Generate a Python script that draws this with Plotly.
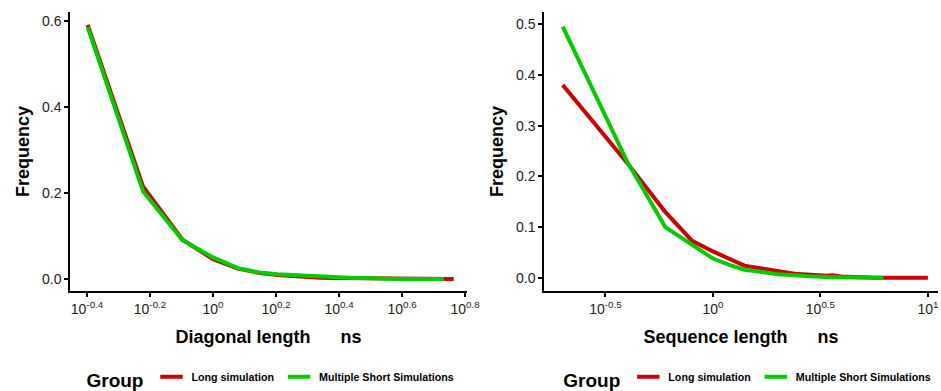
import plotly.graph_objects as go

# ---- Diagonal length distribution (ns) ----
diag_long_x = [0.4, 0.6, 0.8, 1.0, 1.2, 1.4, 1.6, 1.8, 2.0, 2.2, 2.4, 2.6, 2.8, 3.0,
               3.2, 3.4, 3.6, 3.8, 4.0, 4.2, 4.4, 4.6, 4.8, 5.0, 5.2, 5.4, 5.6, 5.8]
diag_long_y = [0.590, 0.214, 0.091, 0.046, 0.024, 0.014, 0.009, 0.006, 0.004, 0.003,
               0.002, 0.002, 0.001, 0.001, 0.001, 0.001, 0.0, 0.0, 0.0, 0.0,
               0.0, 0.0, 0.0, 0.0, 0.0, 0.0, 0.0, 0.0]
diag_short_x = [0.4, 0.6, 0.8, 1.0, 1.2, 1.4, 1.6, 1.8, 2.0, 2.2, 2.4, 2.6, 2.8, 3.0,
                3.2, 3.4, 3.6, 3.8, 4.0, 4.2, 4.4, 4.6, 4.8, 5.0, 5.2, 5.4]
diag_short_y = [0.585, 0.203, 0.090, 0.050, 0.025, 0.015, 0.011, 0.009, 0.006, 0.005,
                0.004, 0.003, 0.002, 0.002, 0.001, 0.001, 0.001, 0.0, 0.0, 0.0,
                0.0, 0.0, 0.0, 0.0, 0.0, 0.0]

# ---- Sequence length distribution (ns) ----
seq_long_x = [0.2, 0.4, 0.6, 0.8, 1.0, 1.2, 1.4, 1.6, 1.8, 2.0, 2.2, 2.4, 2.6, 2.8, 3.0,
              3.2, 3.4, 3.6, 3.8, 4.0, 4.2, 4.4, 4.6, 4.8, 5.0, 5.2, 5.4, 5.6, 5.8, 6.0,
              6.2, 6.4, 6.6, 6.8, 7.0, 7.2, 7.4, 7.6, 7.8, 8.0, 8.2, 8.4, 8.6, 8.8, 9.0,
              9.2, 9.4, 9.6, 9.8, 10.0]
seq_long_y = [0.380, 0.226, 0.130, 0.073, 0.052, 0.037, 0.024, 0.020, 0.016, 0.013,
              0.011, 0.008, 0.007, 0.006, 0.005, 0.004, 0.004, 0.005, 0.003, 0.002,
              0.002, 0.001, 0.001, 0.001, 0.001, 0.0, 0.0, 0.0, 0.0, 0.0,
              0.0, 0.0, 0.0, 0.0, 0.0, 0.0, 0.0, 0.0, 0.0, 0.0,
              0.0, 0.0, 0.0, 0.0, 0.0, 0.0, 0.0, 0.0, 0.0, 0.0]
seq_short_x = [0.2, 0.4, 0.6, 0.8, 1.0, 1.2, 1.4, 1.6, 1.8, 2.0, 2.2, 2.4, 2.6, 2.8, 3.0,
               3.2, 3.4, 3.6, 3.8, 4.0, 4.2, 4.4, 4.6, 4.8, 5.0, 5.2, 5.4, 5.6, 5.8, 6.0,
               6.2]
seq_short_y = [0.495, 0.228, 0.100, 0.064, 0.038, 0.025, 0.016, 0.013, 0.009, 0.007,
               0.006, 0.004, 0.004, 0.003, 0.002, 0.002, 0.002, 0.001, 0.001, 0.001,
               0.0, 0.0, 0.0, 0.0, 0.0, 0.0, 0.0, 0.0, 0.0, 0.0,
               0.0]

group_names = ["Long simulation", "Multiple Short Simulations"]
group_colors = ["#CC0000", "#00CC00"]

diag_tick_exp = ["-0.4", "-0.2", "0", "0.2", "0.4", "0.6", "0.8"]
seq_tick_exp = ["-0.5", "0", "0.5", "1"]

FONT = "Liberation Sans, Arial, sans-serif"
LINE_W = 4

fig = go.Figure()

panels = [
    ("x", "y", "legend", [(diag_long_x, diag_long_y), (diag_short_x, diag_short_y)]),
    ("x2", "y2", "legend2", [(seq_long_x, seq_long_y), (seq_short_x, seq_short_y)]),
]
for xa, ya, leg, series in panels:
    for (xs, ys), name, color in zip(series, group_names, group_colors):
        fig.add_trace(go.Scatter(
            x=xs, y=ys, mode="lines", name=name, xaxis=xa, yaxis=ya,
            line=dict(color=color, width=LINE_W), showlegend=False,
        ))
    # short legend keys
    for name, color in zip(group_names, group_colors):
        fig.add_trace(go.Scatter(
            x=[None], y=[None], mode="markers", name=name, xaxis=xa, yaxis=ya,
            legend=leg, showlegend=True,
            marker=dict(symbol="line-ew-open", size=16, color=color,
                        line=dict(color=color, width=4)),
        ))

axis_common = dict(
    showline=True, linecolor="black", linewidth=1.5,
    ticks="outside", ticklen=4, tickwidth=1.5, tickcolor="black",
    showgrid=False, zeroline=False, mirror=False,
)
title_font = dict(family=FONT, size=18, color="black", weight="bold")

L_DOM = [0.0, 0.4574]
R_DOM = [0.5461, 1.0]

fig.update_layout(
    width=941, height=391,
    margin=dict(l=70, r=3, t=12, b=100, autoexpand=False),
    paper_bgcolor="white", plot_bgcolor="white",
    font=dict(family=FONT, color="black"),
    xaxis=dict(
        domain=L_DOM, type="log", range=[-0.454, 0.806], anchor="y",
        tickvals=[10 ** float(e) for e in diag_tick_exp],
        ticktext=["10<sup>%s</sup>" % e for e in diag_tick_exp],
        tickfont=dict(size=14, color="#222222"),
        title=dict(text="Diagonal length\u00a0\u00a0\u00a0\u00a0\u00a0\u00a0ns", font=title_font, standoff=15),
        **axis_common,
    ),
    yaxis=dict(
        domain=[0, 1], range=[-0.028, 0.62], anchor="x",
        tickvals=[0, 0.2, 0.4, 0.6], tickformat=".1f",
        tickfont=dict(size=14, color="#222222"),
        title=dict(text="Frequency", font=title_font, standoff=8),
        **axis_common,
    ),
    xaxis2=dict(
        domain=R_DOM, type="log", range=[-0.786, 1.047], anchor="y2",
        tickvals=[10 ** float(e) for e in seq_tick_exp],
        ticktext=["10<sup>%s</sup>" % e for e in seq_tick_exp],
        tickfont=dict(size=14, color="#222222"),
        title=dict(text="Sequence length\u00a0\u00a0\u00a0\u00a0\u00a0\u00a0ns", font=title_font, standoff=15),
        **axis_common,
    ),
    yaxis2=dict(
        domain=[0, 1], range=[-0.026, 0.524], anchor="x2",
        tickvals=[0, 0.1, 0.2, 0.3, 0.4, 0.5], tickformat=".1f",
        tickfont=dict(size=14, color="#222222"),
        title=dict(text="Frequency", font=title_font, standoff=8),
        **axis_common,
    ),
)

legend_common = dict(
    orientation="h", yanchor="middle", y=-0.318, xanchor="center",
    font=dict(family=FONT, size=10.7, color="black", weight="bold"),
    title=dict(text="Group", side="left",
               font=dict(family=FONT, size=19, color="black", weight="bold")),
    bgcolor="rgba(0,0,0,0)", itemclick=False, itemdoubleclick=False,
)
fig.update_layout(
    legend=dict(x=sum(L_DOM) / 2 + 0.004, **legend_common),
    legend2=dict(x=sum(R_DOM) / 2 + 0.009, **legend_common),
)

fig.write_html("out.html")
